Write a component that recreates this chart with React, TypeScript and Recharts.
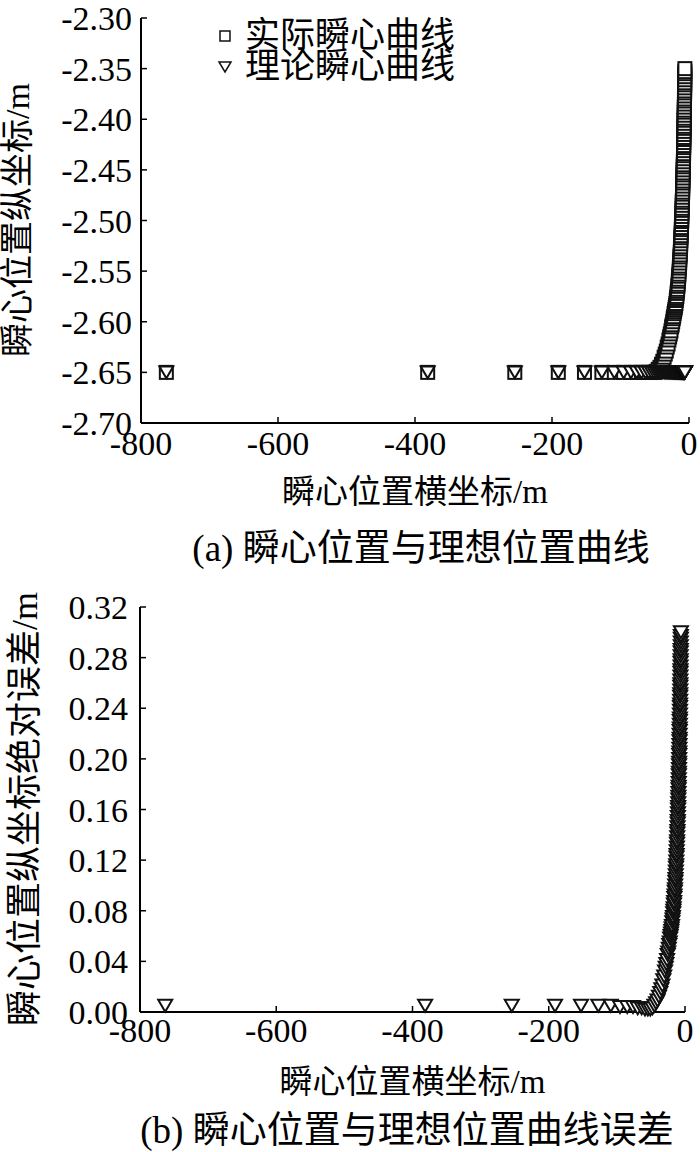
import React from "react";
import { ScatterChart, Scatter, XAxis, YAxis } from "recharts";

const X_TICKS = [-800, -600, -400, -200, 0];
const Y_TICKS_A = [-2.7, -2.65, -2.6, -2.55, -2.5, -2.45, -2.4, -2.35, -2.3];
const Y_TICKS_B = [0, 0.04, 0.08, 0.12, 0.16, 0.2, 0.24, 0.28, 0.32];

// instantaneous centre abscissa (m), same for both panels
const CENTER_X = [
  -763.0, -381.5, -254.3, -190.8, -152.6, -127.2, -109.0, -95.4, -84.8, -76.3,
  -69.4, -63.6, -58.7, -54.5, -50.9, -47.7, -44.9, -42.4, -40.2, -38.2,
  -36.3, -34.7, -33.2, -31.8, -30.5, -29.3, -28.3, -27.3, -26.3, -25.4,
  -24.6, -23.8, -23.1, -22.4, -21.8, -21.2, -20.6, -20.1, -19.6, -19.1,
  -18.6, -18.2, -17.7, -17.3, -17.0, -16.6, -16.2, -15.9, -15.6, -15.3,
  -15.0, -14.7, -14.4, -14.1, -13.9, -13.6, -13.4, -13.2, -12.9, -12.7,
  -12.5, -12.3, -12.1, -11.9, -11.7, -11.6, -11.4, -11.2, -11.1, -10.9,
  -10.7, -10.6, -10.5, -10.3, -10.2, -10.0, -9.9, -9.8, -9.7, -9.5,
  -9.4, -9.3, -9.2, -9.1, -9.0, -8.9, -8.8, -8.7, -8.6, -8.5,
  -8.4, -8.3, -8.2, -8.1, -8.0, -7.9, -7.9, -7.8, -7.7, -7.6,
  -7.6, -7.5, -7.4, -7.3, -7.3, -7.2, -7.1, -7.1, -7.0, -6.9,
  -6.9, -6.8, -6.8, -6.7, -6.6, -6.6, -6.5, -6.5, -6.4, -6.4,
  -6.3, -6.3, -6.2, -6.2, -6.1, -6.1, -6.0,
];

// 理论瞬心 ordinate (m)
const THEORY_Y = [
  -2.65, -2.65, -2.65, -2.65, -2.65, -2.65, -2.65, -2.65, -2.65, -2.65,
  -2.65, -2.65, -2.65, -2.65, -2.65, -2.65, -2.65, -2.65, -2.65, -2.65,
  -2.65, -2.65, -2.65, -2.65, -2.65, -2.65, -2.65, -2.65, -2.65, -2.65,
  -2.65, -2.65, -2.65, -2.65, -2.65, -2.65, -2.65, -2.65, -2.65, -2.65,
  -2.65, -2.65, -2.65, -2.65, -2.65, -2.65, -2.65, -2.65, -2.65, -2.65,
  -2.65, -2.65, -2.65, -2.65, -2.65, -2.65, -2.65, -2.65, -2.65, -2.65,
  -2.65, -2.65, -2.65, -2.65, -2.65, -2.65, -2.65, -2.65, -2.65, -2.65,
  -2.65, -2.65, -2.65, -2.65, -2.65, -2.65, -2.65, -2.65, -2.65, -2.65,
  -2.65, -2.65, -2.65, -2.65, -2.65, -2.65, -2.65, -2.65, -2.65, -2.65,
  -2.65, -2.65, -2.65, -2.65, -2.65, -2.65, -2.65, -2.65, -2.65, -2.65,
  -2.65, -2.65, -2.65, -2.65, -2.65, -2.65, -2.65, -2.65, -2.65, -2.65,
  -2.65, -2.65, -2.65, -2.65, -2.65, -2.65, -2.65, -2.65, -2.65, -2.65,
  -2.65, -2.65, -2.65, -2.65, -2.65, -2.65, -2.65,
];

// 实际瞬心 ordinate (m)
const ACTUAL_Y = [
  -2.650, -2.650, -2.650, -2.650, -2.650, -2.650, -2.650, -2.650, -2.650, -2.650,
  -2.650, -2.650, -2.650, -2.650, -2.650, -2.649, -2.647, -2.645, -2.642, -2.639,
  -2.635, -2.632, -2.629, -2.625, -2.622, -2.618, -2.615, -2.612, -2.609, -2.605,
  -2.603, -2.600, -2.597, -2.595, -2.592, -2.590, -2.588, -2.586, -2.584, -2.582,
  -2.579, -2.577, -2.575, -2.572, -2.570, -2.568, -2.565, -2.563, -2.560, -2.558,
  -2.555, -2.553, -2.550, -2.547, -2.545, -2.542, -2.539, -2.536, -2.534, -2.531,
  -2.528, -2.526, -2.523, -2.520, -2.517, -2.515, -2.512, -2.509, -2.507, -2.504,
  -2.501, -2.499, -2.496, -2.493, -2.490, -2.488, -2.485, -2.482, -2.480, -2.477,
  -2.474, -2.472, -2.469, -2.466, -2.463, -2.461, -2.458, -2.455, -2.453, -2.450,
  -2.447, -2.445, -2.442, -2.439, -2.436, -2.434, -2.431, -2.428, -2.426, -2.423,
  -2.420, -2.418, -2.415, -2.412, -2.409, -2.407, -2.404, -2.401, -2.399, -2.396,
  -2.393, -2.391, -2.388, -2.385, -2.382, -2.380, -2.377, -2.374, -2.372, -2.369,
  -2.366, -2.364, -2.361, -2.358, -2.355, -2.353, -2.350,
];

// absolute error of the ordinate (m)
const ABS_ERROR = [
  0.005, 0.005, 0.005, 0.005, 0.005, 0.005, 0.005, 0.004, 0.004, 0.004,
  0.003, 0.003, 0.002, 0.002, 0.002, 0.003, 0.005, 0.007, 0.009, 0.012,
  0.015, 0.018, 0.021, 0.025, 0.028, 0.032, 0.035, 0.038, 0.041, 0.045,
  0.047, 0.050, 0.053, 0.055, 0.058, 0.060, 0.062, 0.064, 0.066, 0.068,
  0.071, 0.073, 0.075, 0.078, 0.080, 0.082, 0.085, 0.087, 0.090, 0.092,
  0.095, 0.097, 0.100, 0.103, 0.105, 0.108, 0.111, 0.114, 0.116, 0.119,
  0.122, 0.124, 0.127, 0.130, 0.133, 0.135, 0.138, 0.141, 0.143, 0.146,
  0.149, 0.151, 0.154, 0.157, 0.160, 0.162, 0.165, 0.168, 0.170, 0.173,
  0.176, 0.178, 0.181, 0.184, 0.187, 0.189, 0.192, 0.195, 0.197, 0.200,
  0.203, 0.205, 0.208, 0.211, 0.214, 0.216, 0.219, 0.222, 0.224, 0.227,
  0.230, 0.232, 0.235, 0.238, 0.241, 0.243, 0.246, 0.249, 0.251, 0.254,
  0.257, 0.259, 0.262, 0.265, 0.268, 0.270, 0.273, 0.276, 0.278, 0.281,
  0.284, 0.286, 0.289, 0.292, 0.295, 0.297, 0.300,
];

const SERIES_NAMES = ["实际瞬心曲线", "理论瞬心曲线"];

const FONT = '"Liberation Serif", "Noto Sans CJK SC", serif';
const INK = "#111";

const actualData = CENTER_X.map((x, i) => ({ x, y: ACTUAL_Y[i] }));
const theoryData = CENTER_X.map((x, i) => ({ x, y: THEORY_Y[i] }));
const errorData = CENTER_X.map((x, i) => ({ x, y: ABS_ERROR[i] }));

const SquareMark = (props: any) => {
  const { cx, cy } = props;
  const s = 13;
  return (
    <rect x={cx - s / 2} y={cy - s / 2} width={s} height={s}
      fill="#fff" stroke={INK} strokeWidth={2} />
  );
};

const TriangleMark = (props: any) => {
  const { cx, cy } = props;
  const w = 14, h = 12;
  return (
    <path
      d={`M${cx - w / 2},${cy - h / 2}L${cx + w / 2},${cy - h / 2}L${cx},${cy + h / 2}Z`}
      fill="#fff" stroke={INK} strokeWidth={2} />
  );
};

const tickStyle = { fill: "#000", fontSize: 34, fontFamily: FONT };
const axisLine = { stroke: "#000", strokeWidth: 2 };
const tickLine = { stroke: "#000", strokeWidth: 1.5 };

const textBox = (left: number, top: number, width: number, size: number): React.CSSProperties => ({
  position: "absolute",
  left,
  top,
  width,
  fontSize: size,
  lineHeight: `${size + 6}px`,
  textAlign: "center",
  whiteSpace: "nowrap",
  color: "#000",
});

const App = () => {
  return (
    <div style={{ position: "absolute", left: 0, top: 0, width: 700, height: 1152, background: "#fff", fontFamily: FONT }}>
      {/* (a) */}
      <div style={{ position: "absolute", left: 0, top: 0 }}>
        <ScatterChart width={700} height={470} margin={{ top: 18, right: 11, left: 0, bottom: 0 }}>
          <XAxis type="number" dataKey="x" domain={[-800, 0]} ticks={X_TICKS} interval={0}
            height={47} tickSize={-6} tickMargin={14} axisLine={axisLine} tickLine={tickLine} tick={tickStyle} />
          <YAxis type="number" dataKey="y" domain={[-2.7, -2.3]} ticks={Y_TICKS_A} interval={0}
            width={141} tickSize={-6} tickMargin={15} axisLine={axisLine} tickLine={tickLine} tick={tickStyle}
            tickFormatter={(v: number) => v.toFixed(2)} />
          <Scatter name={SERIES_NAMES[0]} data={actualData} shape={SquareMark} isAnimationActive={false} />
          <Scatter name={SERIES_NAMES[1]} data={theoryData} shape={TriangleMark} isAnimationActive={false} />
        </ScatterChart>
      </div>

      {/* legend */}
      <div style={{ position: "absolute", left: 212, top: 20 }}>
        {SERIES_NAMES.map((name, i) => (
          <div key={name} style={{ display: "flex", alignItems: "center", height: 31, fontSize: 35 }}>
            <svg width={26} height={20}>
              {i === 0
                ? <rect x={8} y={5} width={10} height={10} fill="#fff" stroke={INK} strokeWidth={1.5} />
                : <path d="M7,5L19,5L13,15Z" fill="#fff" stroke={INK} strokeWidth={1.5} />}
            </svg>
            <span style={{ marginLeft: 7, lineHeight: "31px" }}>{name}</span>
          </div>
        ))}
      </div>

      <div style={textBox(141, 473, 548, 33)}>瞬心位置横坐标/m</div>
      <div style={textBox(121, 527, 600, 37)}>(a) 瞬心位置与理想位置曲线</div>
      <div style={{ ...textBox(18 - 200, 220 - 20, 400, 34), transform: "rotate(-90deg)" }}>瞬心位置纵坐标/m</div>

      {/* (b) */}
      <div style={{ position: "absolute", left: 0, top: 589 }}>
        <ScatterChart width={700} height={470} margin={{ top: 18, right: 15, left: 0, bottom: 0 }}>
          <XAxis type="number" dataKey="x" domain={[-800, 0]} ticks={X_TICKS} interval={0}
            height={47} tickSize={-6} tickMargin={12} axisLine={axisLine} tickLine={tickLine} tick={tickStyle} />
          <YAxis type="number" dataKey="y" domain={[0, 0.32]} ticks={Y_TICKS_B} interval={0}
            width={140} tickSize={-6} tickMargin={18} axisLine={axisLine} tickLine={tickLine} tick={tickStyle}
            tickFormatter={(v: number) => v.toFixed(2)} />
          <Scatter name={SERIES_NAMES[1]} data={errorData} shape={TriangleMark} isAnimationActive={false} />
        </ScatterChart>
      </div>

      <div style={textBox(140, 1063, 545, 33)}>瞬心位置横坐标/m</div>
      <div style={textBox(107, 1109, 600, 37)}>(b) 瞬心位置与理想位置曲线误差</div>
      <div style={{ ...textBox(25 - 260, 808 - 20, 520, 36), transform: "rotate(-90deg)" }}>瞬心位置纵坐标绝对误差/m</div>
    </div>
  );
};

export default App;
